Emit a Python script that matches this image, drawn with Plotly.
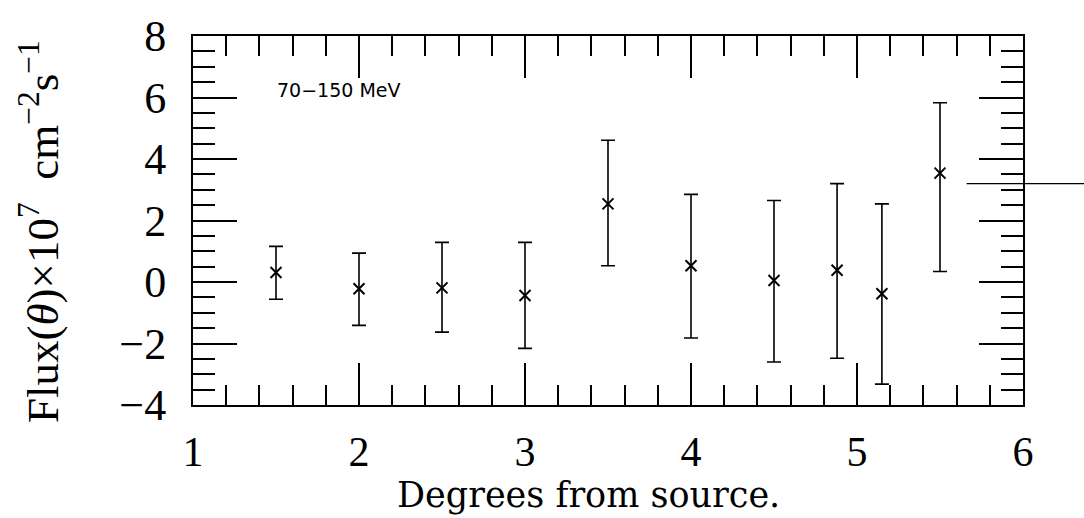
import plotly.graph_objects as go

# Data
degrees = [1.5, 2.0, 2.5, 3.0, 3.5, 4.0, 4.5, 4.88, 5.15, 5.5]
flux = [0.31, -0.22, -0.19, -0.44, 2.54, 0.53, 0.05, 0.38, -0.38, 3.54]
err_plus = [0.85, 1.16, 1.48, 1.73, 2.07, 2.32, 2.6, 2.82, 2.92, 2.29]
err_minus = [0.87, 1.19, 1.44, 1.72, 2.01, 2.35, 2.65, 2.86, 2.94, 3.2]

x_ticks = [1, 2, 3, 4, 5, 6]
y_ticks = [-4, -2, 0, 2, 4, 6, 8]

SERIF = "Liberation Serif"

fig = go.Figure()
fig.add_trace(go.Scatter(
    x=degrees, y=flux, mode="markers",
    marker=dict(symbol="x-thin", size=11, line=dict(color="black", width=2)),
    error_y=dict(type="data", symmetric=False, array=err_plus, arrayminus=err_minus,
                 color="black", thickness=1.6, width=7),
    showlegend=False,
))

fig.update_layout(
    width=1084, height=518,
    margin=dict(l=193, r=61, t=24, b=113),
    plot_bgcolor="white", paper_bgcolor="white",
    font=dict(family=SERIF, color="black"),
)

fig.update_xaxes(
    range=[1, 6], tickvals=x_ticks, ticktext=[str(v) for v in x_ticks],
    ticks="inside", ticklen=42, tickwidth=1.6, tickcolor="black",
    mirror="allticks", showline=True, linecolor="black", linewidth=2,
    showgrid=False, zeroline=False,
    minor=dict(dtick=0.2, ticks="inside", ticklen=20, tickwidth=1.6, tickcolor="black", showgrid=False),
    tickfont=dict(family=SERIF, size=42, color="black"),
    ticklabelstandoff=9,
)
fig.update_yaxes(
    range=[-4, 8], tickvals=y_ticks, ticktext=[("\u2212" + str(-v)) if v < 0 else str(v) for v in y_ticks],
    ticks="inside", ticklen=44, tickwidth=1.6, tickcolor="black",
    mirror="allticks", showline=True, linecolor="black", linewidth=2,
    showgrid=False, zeroline=False,
    minor=dict(dtick=0.5, ticks="inside", ticklen=22, tickwidth=1.6, tickcolor="black", showgrid=False),
    tickfont=dict(family=SERIF, size=44, color="black"),
    ticklabelstandoff=16,
)

fig.add_annotation(
    text="Degrees from source.", xref="paper", yref="paper",
    x=0.476, y=-0.243, xanchor="center", yanchor="middle", showarrow=False,
    font=dict(family="DejaVu Serif", size=35, color="black"),
)
fig.add_annotation(
    text="Flux(<i>θ</i>)×10<sup>7</sup>  cm<sup>−2</sup>s<sup>−1</sup>", xref="paper", yref="paper",
    x=-0.185, y=0.47, xanchor="center", yanchor="middle", showarrow=False, textangle=-90,
    font=dict(family=SERIF, size=45, color="black"),
)
fig.add_annotation(
    text="70−150 MeV", xref="paper", yref="paper",
    x=0.099, y=0.854, xanchor="left", yanchor="middle", showarrow=False,
    font=dict(family="DejaVu Sans", size=19, color="black"),
)
# stray horizontal stroke at the right edge of the reference
fig.add_shape(type="line", xref="paper", yref="paper",
              x0=0.932, x1=1.08, y0=0.6, y1=0.6,
              line=dict(color="black", width=1.2))

fig.write_html("out.html")
